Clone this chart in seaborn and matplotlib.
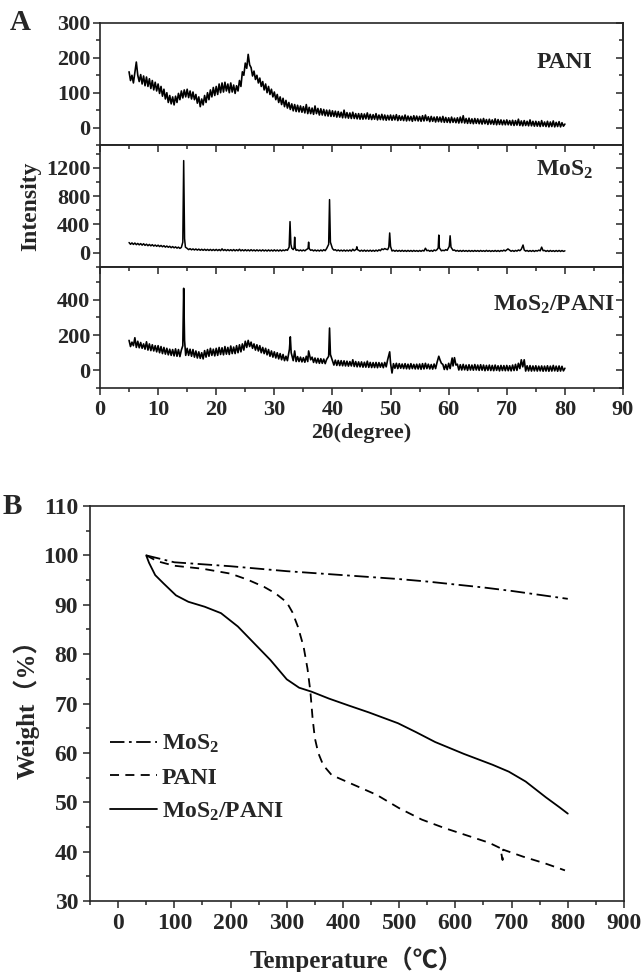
import numpy as np
import pandas as pd
import matplotlib
matplotlib.use("Agg")
import matplotlib.pyplot as plt
import seaborn as sns
from matplotlib.ticker import MultipleLocator

# ---------------- data: XRD (panel A), 2theta grid 5..80 step 0.25 ----------------
two_theta = np.arange(5.0, 80.001, 0.25)

pani_xrd = [
    160, 135, 150, 128, 158, 188, 150, 132, 152, 125, 148, 120, 145, 118, 140, 112, 135, 108, 130, 105,
    125, 98, 118, 90, 110, 82, 100, 72, 92, 68, 88, 65, 90, 72, 98, 80, 105, 85, 108, 88,
    110, 86, 105, 82, 102, 80, 95, 70, 88, 60, 82, 65, 92, 72, 100, 80, 108, 88, 115, 92,
    118, 95, 125, 100, 128, 102, 130, 105, 125, 100, 128, 102, 122, 98, 120, 105, 135, 118, 160, 150,
    185, 170, 210, 180, 172, 148, 162, 138, 150, 128, 142, 118, 132, 108, 125, 100, 118, 95, 110, 88,
    102, 80, 95, 72, 88, 66, 84, 60, 78, 56, 72, 52, 68, 48, 66, 46, 64, 45, 62, 44,
    60, 42, 66, 40, 58, 40, 56, 38, 62, 40, 55, 36, 54, 36, 52, 34, 50, 33, 50, 32,
    48, 32, 47, 30, 46, 30, 44, 28, 50, 28, 43, 27, 42, 26, 44, 26, 40, 25, 40, 24,
    40, 24, 39, 25, 42, 24, 38, 23, 37, 24, 40, 22, 36, 23, 38, 22, 36, 21, 35, 22,
    36, 21, 35, 22, 37, 20, 34, 21, 33, 20, 36, 19, 33, 20, 32, 18, 34, 20, 33, 19,
    32, 18, 34, 19, 36, 20, 31, 17, 32, 18, 30, 16, 31, 17, 30, 16, 32, 15, 29, 15,
    28, 14, 30, 15, 27, 14, 28, 13, 30, 14, 34, 13, 26, 12, 27, 12, 25, 11, 26, 12,
    25, 11, 24, 10, 26, 11, 23, 9, 24, 10, 22, 9, 25, 8, 23, 9, 22, 8, 21, 8,
    22, 8, 20, 7, 21, 6, 20, 7, 24, 6, 19, 5, 20, 6, 18, 5, 22, 5, 18, 4,
    18, 4, 17, 3, 20, 4, 16, 3, 18, 2, 16, 3, 19, 2, 15, 3, 17, 2, 14, 4,
    10]

mos2_xrd_base = [
    145, 120, 140, 118, 138, 115, 132, 112, 130, 108, 128, 105, 122, 100, 118, 98, 115, 95, 110, 92,
    108, 88, 104, 85, 100, 80, 96, 78, 92, 72, 88, 70, 84, 66, 80, 62, 76, 58, 72, 55,
    62, 45, 58, 42, 55, 40, 54, 38, 52, 36, 50, 35, 50, 34, 48, 33, 48, 32, 47, 32,
    48, 31, 46, 30, 56, 32, 46, 30, 45, 30, 44, 29, 46, 28, 44, 29, 50, 28, 43, 28,
    44, 28, 42, 27, 44, 28, 41, 26, 42, 27, 40, 26, 42, 26, 40, 25, 41, 26, 40, 25,
    42, 26, 40, 25, 41, 26, 40, 30, 44, 35, 50, 40, 65, 45, 50, 35, 42, 28, 40, 27,
    40, 28, 45, 30, 55, 35, 42, 27, 40, 26, 38, 25, 40, 26, 44, 30, 60, 80, 120, 90,
    60, 38, 44, 28, 40, 26, 38, 25, 39, 24, 38, 25, 40, 24, 50, 30, 38, 24, 37, 23,
    37, 23, 38, 22, 36, 23, 37, 22, 36, 22, 38, 24, 42, 30, 55, 45, 60, 50, 45, 30,
    42, 26, 36, 22, 35, 22, 34, 21, 35, 21, 33, 20, 34, 21, 33, 20, 34, 21, 32, 20,
    33, 21, 35, 25, 45, 30, 36, 22, 34, 21, 40, 30, 45, 35, 40, 28, 36, 30, 45, 35,
    50, 40, 55, 35, 40, 24, 34, 21, 33, 20, 34, 21, 32, 20, 33, 20, 32, 20, 33, 21,
    32, 20, 33, 21, 31, 20, 34, 21, 32, 19, 31, 20, 33, 20, 32, 19, 33, 24, 38, 26,
    42, 30, 36, 22, 33, 20, 34, 24, 40, 30, 50, 35, 40, 24, 33, 20, 32, 20, 33, 19,
    32, 24, 38, 28, 45, 30, 34, 20, 32, 19, 33, 20, 31, 19, 32, 20, 33, 19, 32, 20,
    28]
mos2_peak_2theta = [14.25, 14.4, 14.55, 14.7, 32.55, 32.7, 32.85, 33.4, 33.5, 33.6,
                    35.8, 35.9, 36.0, 39.35, 39.5, 39.65, 44.1, 44.2, 44.3,
                    49.7, 49.85, 50.0, 56.0, 58.2, 58.3, 58.4, 60.1, 60.25, 60.4,
                    70.2, 72.8, 76.0]
mos2_peak_int = [150, 1300, 200, 80, 80, 440, 120, 70, 220, 70,
                 60, 150, 60, 120, 750, 150, 50, 85, 45,
                 80, 280, 90, 65, 70, 250, 70, 90, 240, 80,
                 55, 110, 80]

comp_xrd_base = [
    170, 135, 160, 140, 185, 130, 165, 128, 158, 125, 150, 120, 162, 115, 150, 112, 145, 110, 140, 105,
    140, 100, 135, 95, 130, 92, 125, 88, 120, 85, 118, 82, 122, 80, 118, 78, 115, 80, 120, 85,
    125, 85, 120, 80, 118, 75, 110, 70, 105, 68, 100, 65, 112, 75, 118, 80, 125, 85, 120, 82,
    125, 85, 130, 90, 128, 88, 135, 92, 130, 90, 138, 95, 132, 95, 140, 100, 145, 105, 150, 115,
    165, 130, 170, 135, 160, 125, 150, 115, 145, 110, 140, 100, 130, 95, 125, 88, 118, 80, 110, 75,
    105, 70, 100, 65, 95, 60, 90, 55, 80, 55, 90, 60, 85, 55, 80, 50, 78, 50, 75, 48,
    72, 46, 80, 50, 100, 60, 75, 45, 70, 42, 68, 40, 66, 40, 64, 38, 62, 40, 80, 60,
    55, 30, 58, 28, 56, 27, 55, 26, 54, 25, 52, 24, 50, 25, 60, 22, 50, 20, 48, 20,
    48, 18, 46, 18, 52, 17, 45, 16, 44, 16, 45, 15, 44, 18, 42, 15, 45, 20, 60, 50,
    40, -15, 38, 12, 40, 10, 38, 12, 36, 10, 38, 9, 35, 8, 38, 10, 34, 8, 35, 8,
    36, 6, 38, 8, 40, 10, 35, 8, 33, 7, 36, 10, 45, 30, 60, 40, 34, 5, 33, 4,
    40, 10, 48, 25, 72, 30, 35, 2, 32, 2, 34, 3, 30, 0, 32, 2, 30, 1, 33, 2,
    30, 0, 32, 1, 30, -2, 28, 0, 30, -1, 28, -2, 30, 0, 26, -3, 28, -1, 27, -2,
    28, -2, 26, -3, 30, -1, 34, 0, 40, 10, 60, 20, 36, -4, 26, -3, 27, -4, 25, -3,
    26, -4, 24, -3, 25, -5, 24, -4, 26, -5, 24, -4, 28, -3, 24, -5, 25, -4, 23, -3,
    12]
comp_peak_2theta = [14.25, 14.4, 14.55, 32.6, 32.75, 32.9, 33.5, 35.9,
                    39.35, 39.5, 39.65, 49.85, 58.3, 60.6, 73.0]
comp_peak_int = [140, 465, 170, 120, 190, 100, 110, 110,
                 80, 240, 90, 105, 80, 70, 60]

# ---------------- data: TGA (panel B) ----------------
tga_mos2_T = [50, 100, 150, 200, 250, 300, 350, 400, 450, 500, 550, 600, 650, 700, 750, 800]
tga_mos2_W = [100, 98.6, 98.2, 97.8, 97.3, 96.8, 96.4, 96.0, 95.6, 95.2, 94.7, 94.1, 93.5, 92.8, 92.0, 91.2]

tga_pani_T = [50, 70, 100, 150, 200, 230, 260, 280, 300, 310, 320, 330, 337, 342, 346, 350,
              356, 365, 380, 420, 460, 500, 540, 580, 620, 660, 680, 684, 685, 720, 760, 795]
tga_pani_W = [100, 98.8, 97.9, 97.3, 96.3, 95.1, 93.6, 92.3, 90.5, 88.5, 85.5, 81.5, 77, 72.5, 67, 63,
              60, 57.5, 55.5, 53.5, 51.5, 48.8, 46.5, 44.8, 43.3, 41.8, 40.7, 38.3, 40.4, 39.0, 37.6, 36.2]

tga_comp_T = [50, 55, 66, 81, 103, 125, 154, 183, 213, 242, 271, 300, 322, 344, 375, 410,
              446, 498, 530, 564, 615, 666, 695, 725, 761, 785, 800]
tga_comp_W = [100, 98.5, 96, 94.3, 91.9, 90.6, 89.6, 88.3, 85.6, 82.2, 78.8, 74.9, 73.2, 72.4, 71.0, 69.6,
              68.2, 66.0, 64.2, 62.2, 59.8, 57.6, 56.2, 54.2, 51.0, 49.0, 47.7]

series_names = ["MoS$_2$", "PANI", "MoS$_2$/PANI"]

# ---------------- style ----------------
sns.set_style("ticks")
plt.rcParams["font.family"] = ["Liberation Serif", "Noto Sans CJK SC", "DejaVu Sans"]
plt.rcParams["font.weight"] = "bold"
plt.rcParams["axes.labelweight"] = "bold"
plt.rcParams["mathtext.fontset"] = "custom"
plt.rcParams["mathtext.rm"] = "Liberation Serif:bold"
plt.rcParams["mathtext.bf"] = "Liberation Serif:bold"
plt.rcParams["mathtext.it"] = "Liberation Serif:bold:italic"
plt.rcParams["mathtext.default"] = "bf"
plt.rcParams["axes.linewidth"] = 1.2


def merge(base_x, base_y, pk_x, pk_y):
    bx = np.asarray(base_x, float)
    by = np.asarray(base_y, float)
    px = np.asarray(pk_x, float)
    keep = np.array([np.min(np.abs(px - v)) > 0.12 for v in bx])
    x = np.concatenate([bx[keep], px])
    y = np.concatenate([by[keep], np.asarray(pk_y, float)])
    o = np.argsort(x)
    return pd.DataFrame({"2theta": x[o], "I": y[o]})


df_pani = pd.DataFrame({"2theta": two_theta, "I": pani_xrd})
df_mos2 = merge(two_theta, mos2_xrd_base, mos2_peak_2theta, mos2_peak_int)
df_comp = merge(two_theta, comp_xrd_base, comp_peak_2theta, comp_peak_int)

fig = plt.figure(figsize=(6.44, 9.72), dpi=100)

W = 644.0
H = 972.0
aL, aR = 100 / W, 623 / W
bounds = [(23, 145), (145, 267), (267, 388)]
axesA = []
for (t, b) in bounds:
    ax = fig.add_axes([aL, 1 - b / H, aR - aL, (b - t) / H])
    axesA.append(ax)

specs = [
    (df_pani, (-50, 300), 100, 50, "PANI", 84.7, 186, 1.2),
    (df_mos2, (-200, 1520), 400, 200, series_names[0], 84.9, 1170, 1.1),
    (df_comp, (-100, 586), 200, 100, series_names[2], 88.6, 372, 1.2),
]
for i, (ax, (df, yl, maj, mnr, lab, tx, ty, lw)) in enumerate(zip(axesA, specs)):
    sns.lineplot(data=df, x="2theta", y="I", ax=ax, color="black", lw=lw,
                 estimator=None, sort=False)
    ax.set_xlim(0, 90)
    ax.set_ylim(*yl)
    ax.xaxis.set_major_locator(MultipleLocator(10))
    ax.xaxis.set_minor_locator(MultipleLocator(5))
    ax.yaxis.set_major_locator(MultipleLocator(maj))
    ax.yaxis.set_minor_locator(MultipleLocator(mnr))
    ax.set_xlabel("")
    ax.set_ylabel("")
    for s in ax.spines.values():
        s.set_visible(True)
        s.set_linewidth(1.2)
    ax.tick_params(axis="y", which="both", direction="out", left=True, right=False,
                   labelleft=True, labelsize=16, width=1.1, pad=2)
    ax.tick_params(axis="y", which="major", length=5)
    ax.tick_params(axis="y", which="minor", length=3)
    ax.text(tx, ty, lab, ha="right", va="center", fontsize=17, fontweight="bold")
    last = i == 2
    ax.tick_params(axis="x", which="both", top=False, bottom=last, direction="out",
                   labelbottom=last, labelsize=16, width=1.1)
    ax.tick_params(axis="x", which="major", length=5)
    ax.tick_params(axis="x", which="minor", length=3)

    sec = ax.secondary_yaxis("right")
    sec.yaxis.set_major_locator(MultipleLocator(maj))
    sec.yaxis.set_minor_locator(MultipleLocator(mnr))
    sec.tick_params(axis="y", which="both", direction="in", labelright=False, width=1.1)
    sec.tick_params(which="major", length=5)
    sec.tick_params(which="minor", length=3)
    sec.spines["right"].set_linewidth(1.2)
    if i > 0:
        sx = ax.secondary_xaxis("top")
        sx.xaxis.set_major_locator(MultipleLocator(10))
        sx.xaxis.set_minor_locator(MultipleLocator(5))
        sx.tick_params(axis="x", which="both", direction="in", labeltop=False, width=1.1)
        sx.tick_params(which="major", length=5)
        sx.tick_params(which="minor", length=3)
        sx.spines["top"].set_linewidth(1.2)

axesA[2].set_xlabel("2θ(degree)", fontsize=16, fontweight="bold", labelpad=2)
axesA[1].set_ylabel("Intensity", fontsize=17, fontweight="bold", labelpad=3)
fig.text(20 / W, 1 - 22 / H, "A", fontsize=21, fontweight="bold", ha="center", va="center")

# ---------------- panel B ----------------
bL, bR, bT, bB = 90 / W, 624 / W, 506 / H, 901 / H
axB = fig.add_axes([bL, 1 - bB, bR - bL, bB - bT])
df_tga = pd.concat([
    pd.DataFrame({"T": tga_mos2_T, "W": tga_mos2_W, "s": series_names[0]}),
    pd.DataFrame({"T": tga_pani_T, "W": tga_pani_W, "s": series_names[1]}),
    pd.DataFrame({"T": tga_comp_T, "W": tga_comp_W, "s": series_names[2]}),
])
styles = {series_names[0]: (0, (8, 2.5, 1.5, 2.5)), series_names[1]: (0, (5, 3.5)),
          series_names[2]: "-"}
for name, g in df_tga.groupby("s", sort=False):
    sns.lineplot(data=g, x="T", y="W", ax=axB, color="black", lw=1.3,
                 estimator=None, sort=False, label=name, linestyle=styles[name])
axB.set_xlim(-50, 900)
axB.set_ylim(30, 110)
axB.xaxis.set_major_locator(MultipleLocator(100))
axB.xaxis.set_minor_locator(MultipleLocator(50))
axB.yaxis.set_major_locator(MultipleLocator(10))
axB.yaxis.set_minor_locator(MultipleLocator(5))
for s in axB.spines.values():
    s.set_visible(True)
    s.set_linewidth(1.2)
axB.tick_params(axis="both", which="both", direction="out", top=False, right=False,
                labelsize=17, width=1.1)
axB.tick_params(which="major", length=5)
axB.tick_params(which="minor", length=3)
axB.set_xlabel("Temperature（℃）", fontsize=18, fontweight="bold", labelpad=9)
axB.set_ylabel("Weight（%）", fontsize=18, fontweight="bold", labelpad=2)
axB.legend(loc="upper left", bbox_to_anchor=(0.037, 0.425), frameon=False,
           handlelength=2.0, handletextpad=0.2, labelspacing=0.5, borderpad=0,
           borderaxespad=0, prop={"family": ["Liberation Serif"], "weight": "bold", "size": 17})
fig.text(12 / W, 1 - 506 / H, "B", fontsize=21, fontweight="bold", ha="center", va="center")

fig.savefig("out.png", dpi=100)
